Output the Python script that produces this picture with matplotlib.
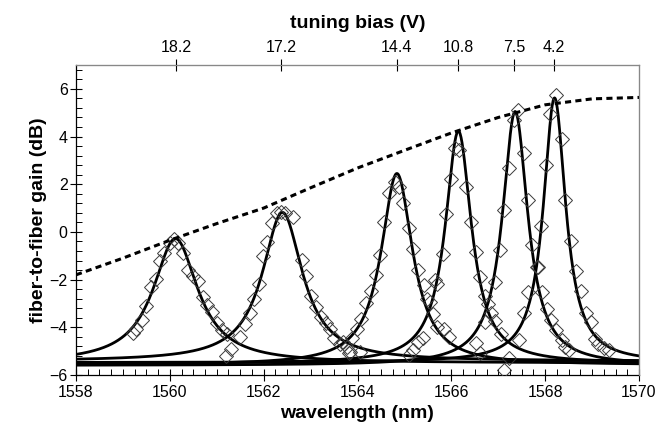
import numpy as np
import matplotlib
matplotlib.use("Agg")
import matplotlib.pyplot as plt
from matplotlib.ticker import MultipleLocator

plt.rcParams['font.family'] = ['Liberation Sans', 'DejaVu Sans']

# ---- data ----
# top axis: tuning bias labels at peak wavelengths
bias_wl = [1560.14, 1562.37, 1564.84, 1566.14, 1567.34, 1568.19]
bias_labels = ['18.2', '17.2', '14.4', '10.8', '7.5', '4.2']

# Lorentzian fit parameters: centre, peak (dB), half-width (nm), base (dB)
fit_center = [1560.12, 1562.40, 1564.84, 1566.15, 1567.36, 1568.20]
fit_peak = [-0.28, 0.82, 2.45, 4.23, 5.05, 5.62]
fit_hw = [0.58, 0.52, 0.41, 0.34, 0.33, 0.29]
fit_base = [-5.50, -5.42, -5.58, -5.52, -5.60, -5.48]

# gain envelope (dotted)
env_wl = [1558.0, 1559.0, 1560.0, 1561.0, 1562.0, 1563.0, 1564.0, 1565.0,
          1566.0, 1567.0, 1568.0, 1569.0, 1570.0]
env_gain = [-1.80, -1.10, -0.35, 0.35, 1.00, 1.85, 2.68, 3.42,
            4.15, 4.80, 5.33, 5.58, 5.64]

# measured points (diamonds), one pair of lists per peak
p1_wl = [1559.21, 1559.28, 1559.40, 1559.49, 1559.59, 1559.71, 1559.79, 1559.88,
         1560.00, 1560.08, 1560.18, 1560.29, 1560.39, 1560.49, 1560.59, 1560.70,
         1560.80, 1560.89, 1561.00, 1561.12, 1561.21]
p1_db = [-4.25, -4.05, -3.69, -3.10, -2.32, -1.96, -1.23, -0.89,
         -0.45, -0.30, -0.45, -0.89, -1.59, -1.84, -2.07, -2.74,
         -3.07, -3.35, -3.83, -4.11, -4.28]

p2_wl = [1561.19, 1561.30, 1561.50, 1561.60, 1561.70, 1561.80, 1561.89, 1561.98,
         1562.07, 1562.17, 1562.28, 1562.37, 1562.46, 1562.62, 1562.81, 1562.90,
         1563.00, 1563.12, 1563.22, 1563.33, 1563.42, 1563.49, 1563.63, 1563.83,
         1564.06]
p2_db = [-5.20, -4.92, -4.39, -3.86, -3.40, -2.82, -2.18, -1.03,
         -0.43, 0.36, 0.78, 0.85, 0.78, 0.62, -1.17, -1.84,
         -2.68, -3.13, -3.58, -3.83, -4.08, -4.46, -4.70, -5.02,
         -5.02]

p3_wl = [1563.70, 1563.77, 1563.81, 1563.88, 1563.98, 1564.07, 1564.18, 1564.28,
         1564.40, 1564.48, 1564.57, 1564.68, 1564.80, 1564.89, 1564.98, 1565.09,
         1565.18, 1565.30, 1565.41, 1565.49, 1565.61, 1565.69, 1565.85, 1565.95]
p3_db = [-4.60, -4.81, -5.06, -4.46, -4.08, -3.66, -2.99, -2.46,
         -1.80, -0.96, 0.43, 1.65, 2.11, 1.87, 1.20, 0.15,
         -0.73, -1.59, -2.22, -2.82, -3.44, -3.97, -4.08, -4.40]

p4_wl = [1565.09, 1565.19, 1565.30, 1565.39, 1565.55, 1565.65, 1565.70, 1565.83,
         1565.88, 1566.00, 1566.07, 1566.17, 1566.31, 1566.41, 1566.53, 1566.62,
         1566.72, 1566.84, 1566.94, 1567.05, 1567.13, 1567.22]
p4_db = [-5.16, -4.95, -4.60, -4.46, -2.92, -2.01, -2.19, -0.92,
         0.75, 2.24, 3.54, 3.43, 1.87, 0.43, -0.84, -1.90,
         -2.68, -3.39, -3.74, -4.27, -5.77, -5.30]

p5_wl = [1566.53, 1566.62, 1566.71, 1566.79, 1566.94, 1567.03, 1567.12, 1567.22,
         1567.34, 1567.43, 1567.54, 1567.64, 1567.73, 1567.84, 1567.94, 1568.04,
         1568.13, 1568.23, 1568.35, 1568.43, 1568.51]
p5_db = [-4.64, -5.09, -3.79, -3.04, -2.09, -0.77, 0.92, 2.67,
         4.68, 5.13, 3.33, 1.35, -0.53, -1.48, -2.54, -3.25,
         -3.70, -4.13, -4.52, -4.81, -4.95]

p6_wl = [1567.44, 1567.54, 1567.63, 1567.82, 1567.92, 1568.02, 1568.11, 1568.23,
         1568.35, 1568.43, 1568.54, 1568.65, 1568.76, 1568.87, 1568.97, 1569.07,
         1569.13, 1569.26, 1569.36]
p6_db = [-4.52, -3.39, -2.52, -1.48, 0.26, 2.81, 4.96, 5.74,
         3.90, 1.35, -0.39, -1.62, -2.47, -3.39, -3.79, -4.49,
         -4.69, -4.88, -4.95]

points = [(p1_wl, p1_db), (p2_wl, p2_db), (p3_wl, p3_db),
          (p4_wl, p4_db), (p5_wl, p5_db), (p6_wl, p6_db)]

# ---- figure ----
fig = plt.figure(figsize=(6.7, 4.32), dpi=100)
ax = fig.add_axes([76/670, 1-375/432, (639-76)/670, (375-65)/432])

wl = np.linspace(1558, 1570, 1200)
for c, p, hw, b in zip(fit_center, fit_peak, fit_hw, fit_base):
    y = b + (p - b) / (1 + ((wl - c) / hw) ** 2)
    ax.plot(wl, y, color='black', lw=2.0, zorder=2)

for xs, ys in points:
    ax.plot(xs, ys, linestyle='none', marker='D', ms=6.8, mfc='none',
            mec='#3a3a3a', mew=0.7, zorder=3)

ax.plot(env_wl, env_gain, color='black', lw=2.2, dashes=(2.0, 1.4), zorder=4)

ax.set_xlim(1558, 1570)
ax.set_ylim(-6, 7)
ax.xaxis.set_major_locator(MultipleLocator(2))
ax.xaxis.set_minor_locator(MultipleLocator(0.25))
ax.yaxis.set_major_locator(MultipleLocator(2))
ax.yaxis.set_minor_locator(MultipleLocator(0.4))
ax.tick_params(axis='both', which='major', direction='inout', length=8, width=0.8,
               labelsize=11.5, color='black')
ax.tick_params(axis='both', which='minor', direction='in', length=4, width=0.7,
               color='black')
ax.tick_params(axis='x', which='both', top=False, pad=3)
ax.tick_params(axis='y', which='both', right=False, pad=2)
ax.set_xlabel('wavelength (nm)', fontsize=14, fontweight='bold', labelpad=4)
ax.set_ylabel('fiber-to-fiber gain (dB)', fontsize=14, fontweight='bold', labelpad=2)

for side in ['left', 'bottom']:
    ax.spines[side].set_color('black')
    ax.spines[side].set_linewidth(0.9)
for side in ['top', 'right']:
    ax.spines[side].set_color('#888888')
    ax.spines[side].set_linewidth(0.9)

ax2 = ax.twiny()
ax2.set_xlim(ax.get_xlim())
ax2.set_xticks(bias_wl)
ax2.set_xticklabels(bias_labels)
ax2.tick_params(axis='x', which='major', direction='inout', length=9, width=0.8,
                labelsize=11.5, pad=3)
ax2.tick_params(axis='x', which='minor', top=False, bottom=False)
ax2.set_xlabel('tuning bias (V)', fontsize=14, fontweight='bold', labelpad=8)
for side in ['left', 'bottom']:
    ax2.spines[side].set_visible(False)
ax2.spines['top'].set_color('#888888')
ax2.spines['right'].set_color('#888888')

fig.savefig('out.png', dpi=100)
